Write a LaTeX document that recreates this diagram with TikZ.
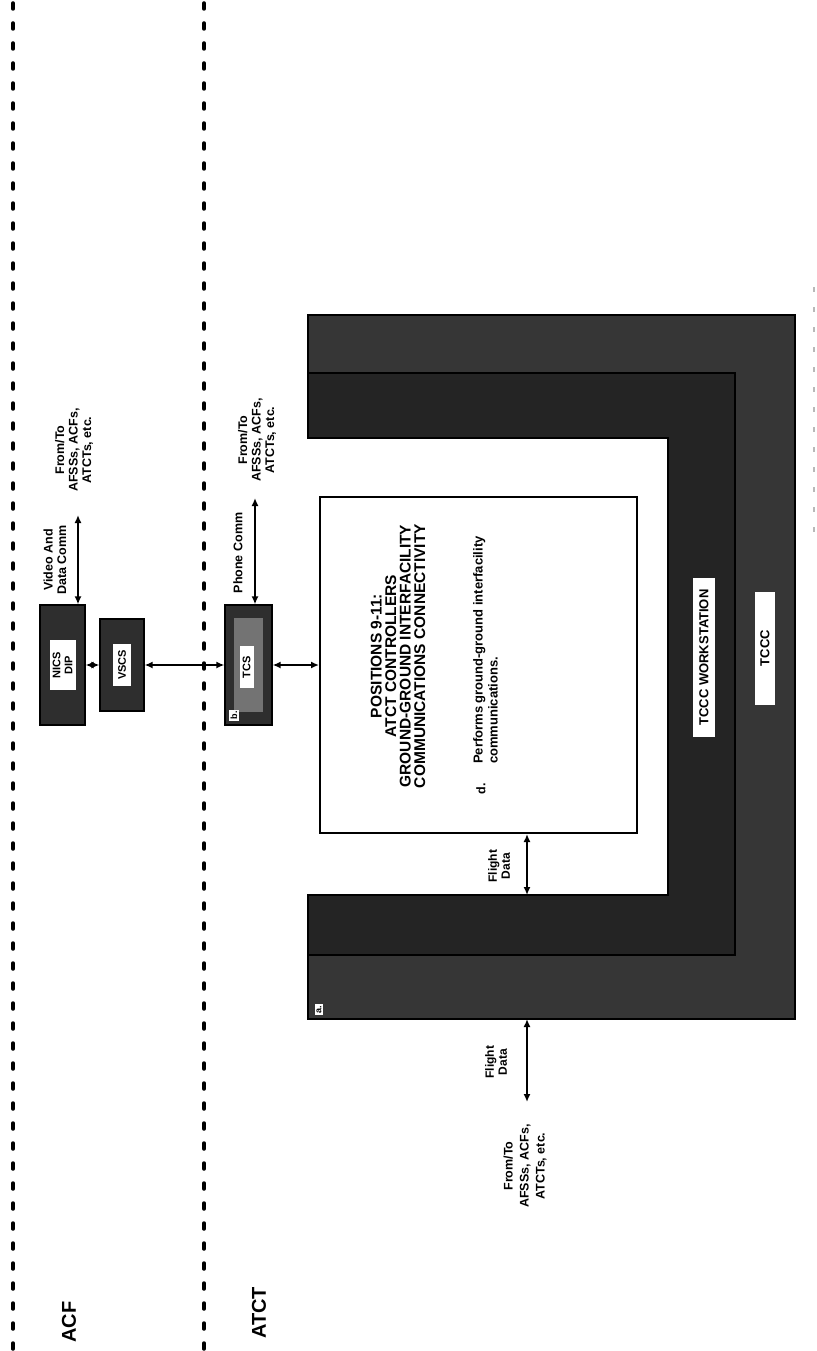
\documentclass[tikz,border=0pt]{standalone}
\usepackage{fontspec}
\setmainfont{Liberation Sans}
\usetikzlibrary{arrows.meta,positioning}

\begin{document}
\begin{tikzpicture}[x=1pt,y=-1pt,
    >={Latex[length=8pt,width=7pt]},
    every node/.style={font=\bfseries},
    divider/.style={line width=3.5pt,line cap=round,dash pattern=on 6pt off 14pt},
    link/.style={<->,line width=1.6pt},
    unitbox/.style={draw,line width=1.2pt,fill=black!82,inner sep=0pt},
    namebox/.style={fill=white,rotate=90,align=center,inner sep=1pt,
        font=\bfseries\fontsize{11}{12}\selectfont},
    tagbox/.style={fill=white,rotate=90,inner sep=1.5pt,
        font=\bfseries\fontsize{9}{10}\selectfont},
    lbl/.style={rotate=90,align=center,inner sep=0pt,
        font=\bfseries\fontsize{12.5}{13.5}\selectfont}]
\useasboundingbox (0,0) rectangle (816,1351);

% the two dotted dividers, ACF on the left and ATCT on the right
\draw[divider] (13,3) -- (13,1351);
\draw[divider] (204,3) -- (204,1351);
\draw[gray!55,line width=1.4pt,dash pattern=on 5pt off 15pt] (814,287) -- (814,543);
\node[lbl,font=\bfseries\fontsize{20}{22}\selectfont] (acf) at (69,1322) {ACF};
\node[lbl,font=\bfseries\fontsize{20}{22}\selectfont] (atct) at (259,1313) {ATCT};

% TCCC and the TCCC workstation, both drawn as a U open to the left
\filldraw[fill=black!79,line width=1.5pt]
    (308,315) -- (795,315) -- (795,1019) -- (308,1019) -- (308,895)
    -- (668,895) -- (668,438) -- (308,438) -- cycle;
\filldraw[fill=black!86,line width=1.2pt]
    (308,373) -- (735,373) -- (735,955) -- (308,955) -- (308,895)
    -- (668,895) -- (668,438) -- (308,438) -- cycle;
\node[namebox,font=\bfseries\fontsize{13}{14}\selectfont,
    minimum width=159,minimum height=22] (wslbl) at (704,657.5) {TCCC WORKSTATION};
\node[namebox,font=\bfseries\fontsize{13}{14}\selectfont,
    minimum width=113,minimum height=20] (tccclbl) at (765,648) {TCCC};
\node[tagbox] (taga) at (319,1009.5) {a.};

% the positions box
\node[draw,line width=2pt,fill=white,minimum width=317,minimum height=336,
    inner sep=0pt] (pos) at (478.5,665) {};
\node[lbl,font=\bfseries\fontsize{15.5}{14.5}\selectfont] (title) at (398,656)
    {POSITIONS 9-11:\\ATCT CONTROLLERS\\GROUND-GROUND INTERFACILITY\\COMMUNICATIONS CONNECTIVITY};
\node[lbl,font=\bfseries\fontsize{12.5}{13}\selectfont] (dmark) at (481,789) {d.};
\node[lbl,anchor=north west,align=left,font=\bfseries\fontsize{13}{15}\selectfont]
    (duty) at (473,764) {Performs ground-ground interfacility\\communications.};

% units above the positions box
\node[unitbox,minimum width=45,minimum height=120] (nics) at (62.5,665) {};
\node[namebox,minimum width=50,minimum height=26] (nicslbl) at (nics) {NICS\\DIP};
\node[unitbox,minimum width=44,minimum height=92] (vscs) at (122,665) {};
\node[namebox,minimum width=42,minimum height=18] (vscslbl) at (vscs) {VSCS};
\node[unitbox,minimum width=47,minimum height=120] (tcs) at (248.5,665) {};
\node[fill=black!55,minimum width=29,minimum height=94,inner sep=0pt] (tcsin) at (tcs) {};
\node[namebox,minimum width=42,minimum height=14] (tcslbl) at (246.5,667) {TCS};
\node[tagbox] (tagb) at (234,715) {b.};

\draw[link] (nics) -- (vscs);
\draw[link] (vscs) -- (tcs);
\draw[link] (tcs) -- (pos);

% outside links
\coordinate (vctop) at (78,515);
\coordinate (pctop) at (255,498);
\draw[link] (nics.north -| vctop) -- (vctop);
\draw[link] (tcs.north -| pctop) -- (pctop);
\node[lbl] (vdc) at (55,560) {Video And\\Data Comm};
\node[lbl] (pc) at (238,553) {Phone Comm};
\node[lbl] (ft1) at (74,450) {From/To\\AFSSs, ACFs,\\ATCTs, etc.};
\node[lbl] (ft2) at (257,440) {From/To\\AFSSs, ACFs,\\ATCTs, etc.};

% flight data
\coordinate (uin) at (527,895);
\coordinate (uout) at (527,1019);
\coordinate (fdend) at (527,1102);
\draw[link] (pos.south -| uin) -- (uin);
\draw[link] (uout) -- (fdend);
\node[lbl,font=\bfseries\fontsize{12}{13}\selectfont] (fd1) at (499,866) {Flight\\Data};
\node[lbl,font=\bfseries\fontsize{12}{13}\selectfont] (fd2) at (496,1062) {Flight\\Data};
\node[lbl,font=\bfseries\fontsize{12.5}{16}\selectfont] (ft3) at (525,1166) {From/To\\AFSSs, ACFs,\\ATCTs, etc.};
\end{tikzpicture}
\end{document}
